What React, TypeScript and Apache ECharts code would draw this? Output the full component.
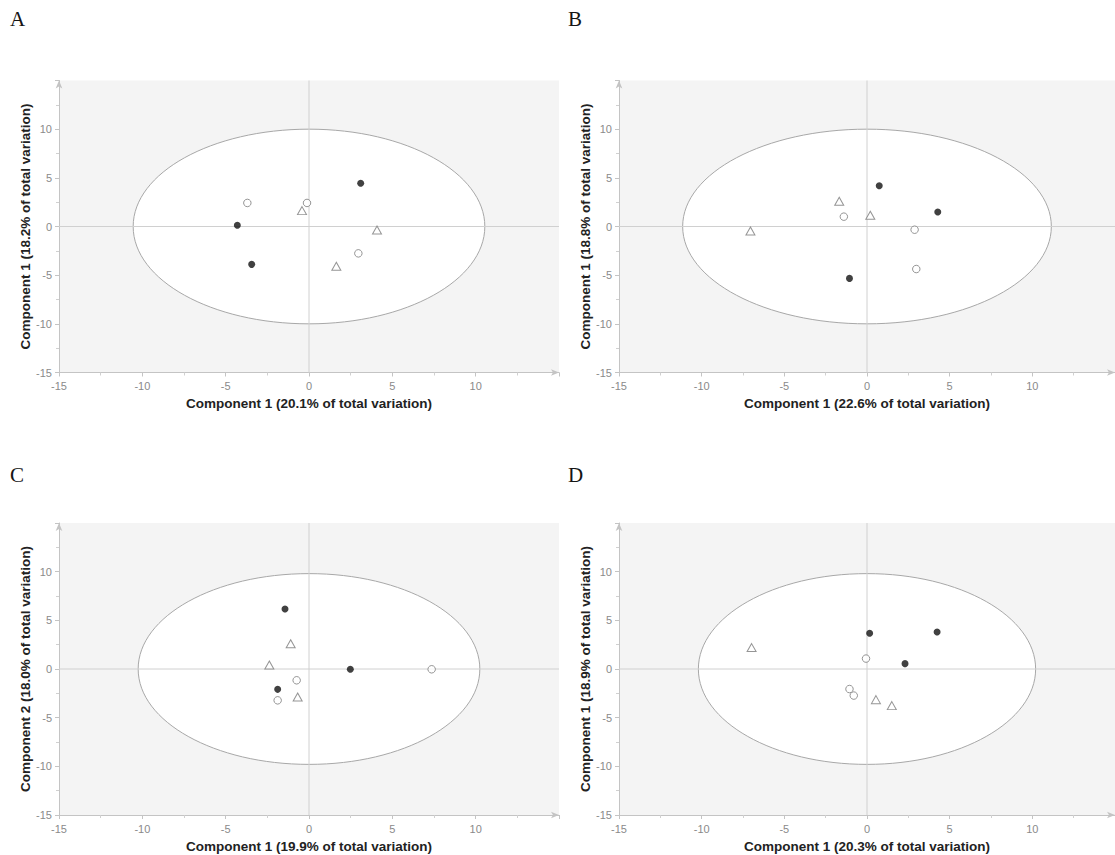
import React, { useEffect, useRef } from "react";
import * as echarts from "echarts";

// ---- Data ----
const panelLetters = ["A", "B", "C", "D"];
const xTitles = [
  "Component 1 (20.1% of total variation)",
  "Component 1 (22.6% of total variation)",
  "Component 1 (19.9% of total variation)",
  "Component 1 (20.3% of total variation)",
];
const yTitles = [
  "Component 1 (18.2% of total variation)",
  "Component 1 (18.8% of total variation)",
  "Component 2 (18.0% of total variation)",
  "Component 1 (18.9% of total variation)",
];

// Panel A
const aFilled = [[3.1, 4.44], [-4.3, 0.12], [-3.44, -3.89]];
const aOpen = [[-3.7, 2.42], [-0.12, 2.42], [2.96, -2.76]];
const aTriangle = [[-0.42, 1.63], [4.08, -0.36], [1.64, -4.09]];
// Panel B
const bFilled = [[0.74, 4.19], [4.28, 1.49], [-1.06, -5.33]];
const bOpen = [[-1.4, 1.01], [2.88, -0.33], [2.98, -4.37]];
const bTriangle = [[-1.68, 2.59], [0.2, 1.15], [-7.05, -0.46]];
// Panel C
const cFilled = [[-1.44, 6.17], [2.48, -0.03], [-1.88, -2.09]];
const cOpen = [[7.36, -0.03], [-0.74, -1.16], [-1.88, -3.22]];
const cTriangle = [[-1.1, 2.6], [-2.38, 0.41], [-0.68, -2.88]];
// Panel D
const dFilled = [[0.16, 3.67], [4.24, 3.8], [2.3, 0.55]];
const dOpen = [[-0.06, 1.07], [-1.06, -2.06], [-0.8, -2.73]];
const dTriangle = [[-6.98, 2.2], [0.54, -3.15], [1.5, -3.76]];

// Confidence ellipses: [centerX, centerY, radiusX, radiusY]
const ellipses = [
  [0, 0, 10.55, 10.0],
  [0, 0, 11.15, 10.0],
  [0, 0, 10.25, 9.8],
  [0, 0, 10.2, 9.8],
];

const axisMin = -15;
const axisMax = 15;
const tickStep = 5;

const filledSets = [aFilled, bFilled, cFilled, dFilled];
const openSets = [aOpen, bOpen, cOpen, dOpen];
const triangleSets = [aTriangle, bTriangle, cTriangle, dTriangle];

// ---- Layout ----
const gridPos = [
  { left: 59, top: 80.5 },
  { left: 619, top: 80.5 },
  { left: 59, top: 523 },
  { left: 619, top: 523 },
];
const letterPos = [
  { left: 10, top: 8 },
  { left: 568, top: 8 },
  { left: 10, top: 464 },
  { left: 568, top: 464 },
];

const labelFont = "Liberation Sans";

export default function App() {
  const ref = useRef<HTMLDivElement>(null);

  useEffect(() => {
    if (!ref.current) return;
    const chart = echarts.init(ref.current, null, { renderer: "svg" });

    const grids = gridPos.map((g) => ({
      left: g.left,
      top: g.top,
      width: 500,
      height: 292,
      show: true,
      backgroundColor: "#f4f4f4",
      borderWidth: 0,
    }));

    const axisCommon = {
      type: "value",
      min: axisMin,
      max: axisMax,
      interval: tickStep,
      axisLine: {
        show: true,
        onZero: false,
        symbol: ["none", "arrow"],
        symbolSize: [5, 8],
        lineStyle: { color: "#c4c4c4", width: 1 },
      },
      axisTick: { show: true, length: 4, lineStyle: { color: "#c4c4c4" } },
      minorTick: { show: true, splitNumber: 2, length: 3, lineStyle: { color: "#d0d0d0" } },
      splitLine: { show: false },
      axisLabel: {
        color: "#8a8a8a",
        fontSize: 11,
        fontFamily: labelFont,
        showMaxLabel: false,
        formatter: (v: number) => (v === axisMax ? "" : String(v)),
      },
      nameLocation: "middle",
      nameTextStyle: {
        fontWeight: "bold",
        fontSize: 13.5,
        color: "#222",
        fontFamily: labelFont,
      },
    };

    const xAxes = gridPos.map((_, i) => ({
      ...axisCommon,
      gridIndex: i,
      name: xTitles[i],
      nameGap: 24,
      axisLabel: { ...axisCommon.axisLabel, margin: 8 },
    }));
    const yAxes = gridPos.map((_, i) => ({
      ...axisCommon,
      gridIndex: i,
      name: yTitles[i],
      nameGap: 27,
      axisLabel: { ...axisCommon.axisLabel, margin: 7 },
    }));

    const series: any[] = [];
    for (let i = 0; i < 4; i++) {
      series.push({
        type: "custom",
        xAxisIndex: i,
        yAxisIndex: i,
        z: 1,
        silent: true,
        data: [ellipses[i]],
        renderItem: (_params: any, api: any) => {
          const c = api.coord([api.value(0), api.value(1)]);
          const s = api.size([api.value(2), api.value(3)]);
          const h0 = api.coord([axisMin, 0]);
          const h1 = api.coord([axisMax, 0]);
          const v0 = api.coord([0, axisMin]);
          const v1 = api.coord([0, axisMax]);
          return {
            type: "group",
            children: [
              {
                type: "ellipse",
                shape: { cx: c[0], cy: c[1], rx: s[0], ry: s[1] },
                style: { fill: "#ffffff", stroke: "#a8a8a8", lineWidth: 1 },
              },
              {
                type: "line",
                shape: { x1: h0[0], y1: h0[1], x2: h1[0], y2: h1[1] },
                style: { stroke: "#d0d0d0", lineWidth: 1 },
              },
              {
                type: "line",
                shape: { x1: v0[0], y1: v0[1], x2: v1[0], y2: v1[1] },
                style: { stroke: "#d0d0d0", lineWidth: 1 },
              },
            ],
          };
        },
      });
      series.push({
        type: "scatter",
        xAxisIndex: i,
        yAxisIndex: i,
        z: 3,
        symbol: "circle",
        symbolSize: 7,
        itemStyle: { color: "#111111" },
        data: filledSets[i],
      });
      series.push({
        type: "scatter",
        xAxisIndex: i,
        yAxisIndex: i,
        z: 3,
        symbol: "circle",
        symbolSize: 7.5,
        itemStyle: { color: "#ffffff", borderColor: "#7a7a7a", borderWidth: 1 },
        data: openSets[i],
      });
      series.push({
        type: "scatter",
        xAxisIndex: i,
        yAxisIndex: i,
        z: 3,
        symbol: "triangle",
        symbolSize: [9, 8],
        itemStyle: { color: "#ffffff", borderColor: "#7a7a7a", borderWidth: 1 },
        data: triangleSets[i],
      });
    }

    chart.setOption({
      animation: false,
      backgroundColor: "#ffffff",
      grid: grids,
      xAxis: xAxes,
      yAxis: yAxes,
      series,
      graphic: panelLetters.map((t, i) => ({
        type: "text",
        left: letterPos[i].left,
        top: letterPos[i].top,
        style: {
          text: t,
          font: '21px "Liberation Serif"',
          fill: "#151515",
        },
      })),
    });

    return () => chart.dispose();
  }, []);

  return (
    <div
      ref={ref}
      style={{ position: "absolute", left: 0, top: 0, width: 1115, height: 855 }}
    />
  );
}
